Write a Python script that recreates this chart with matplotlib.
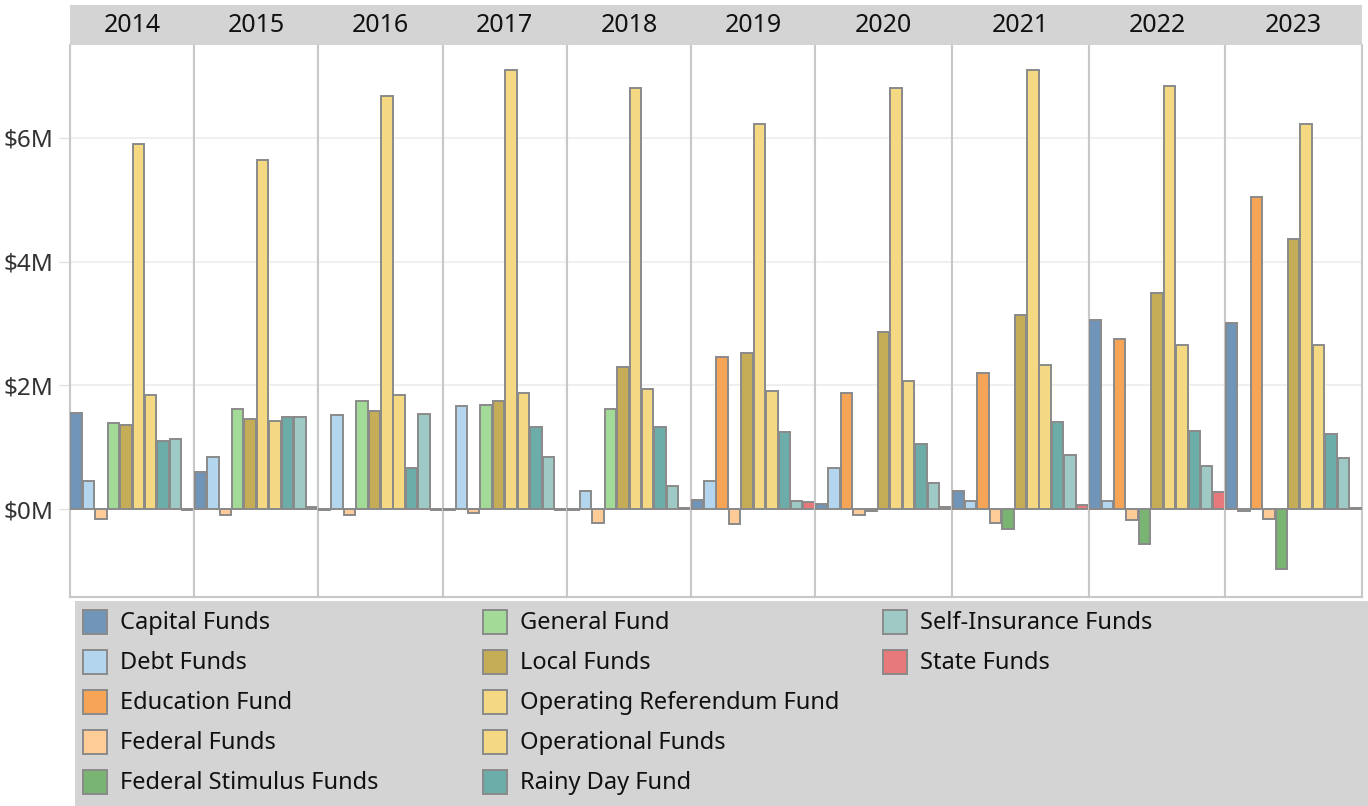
import matplotlib.pyplot as plt
from matplotlib.patches import Rectangle

plt.rcParams['font.family'] = ['Noto Sans', 'DejaVu Sans']

years = ['2014', '2015', '2016', '2017', '2018', '2019', '2020', '2021', '2022', '2023']

funds = ['Capital Funds', 'Debt Funds', 'Education Fund', 'Federal Funds',
         'Federal Stimulus Funds', 'General Fund', 'Local Funds',
         'Operating Referendum Fund', 'Operational Funds', 'Rainy Day Fund',
         'Self-Insurance Funds', 'State Funds']
colors = ['#7194b9', '#b3d5ed', '#f5a555', '#ffcb97', '#7ab472', '#a3da97',
          '#c5ad57', '#f4d882', '#f4d882', '#6dada9', '#9ec9c5', '#e7797a']

# values in $M per year, None = fund not reported that year
capital = [1.55, 0.60, -0.02, -0.02, -0.02, 0.14, 0.08, 0.30, 3.06, 3.01]
debt = [0.46, 0.85, 1.52, 1.66, 0.30, 0.46, 0.66, 0.13, 0.13, -0.03]
education = [None, None, None, None, None, 2.46, 1.88, 2.20, 2.75, 5.04]
federal = [-0.155, -0.09, -0.09, -0.06, -0.22, -0.24, -0.09, -0.22, -0.18, -0.155]
fed_stimulus = [None, None, None, None, None, None, -0.03, -0.32, -0.56, -0.96]
general = [1.39, 1.62, 1.75, 1.68, 1.62, None, None, None, None, None]
local = [1.36, 1.46, 1.59, 1.75, 2.30, 2.53, 2.87, 3.13, 3.49, 4.36]
op_referendum = [5.90, 5.64, 6.68, 7.09, 6.80, 6.22, 6.80, 7.09, 6.84, 6.22]
operational = [1.85, 1.43, 1.85, 1.88, 1.94, 1.91, 2.07, 2.33, 2.66, 2.66]
rainy_day = [1.10, 1.49, 0.66, 1.33, 1.33, 1.24, 1.05, 1.40, 1.26, 1.21]
self_insurance = [1.14, 1.49, 1.53, 0.85, 0.37, 0.13, 0.43, 0.88, 0.70, 0.82]
state = [-0.02, 0.03, -0.02, -0.02, 0.02, 0.11, 0.03, 0.07, 0.28, 0.02]

values = [capital, debt, education, federal, fed_stimulus, general, local,
          op_referendum, operational, rainy_day, self_insurance, state]

yticks = [0, 2, 4, 6]
ytick_labels = ['$0M', '$2M', '$4M', '$6M']

W, H = 1368, 806
fig = plt.figure(figsize=(W / 100, H / 100), dpi=100)


def fx(px):
    return px / W


def fy(py):
    return 1 - py / H


counts = [sum(v[i] is not None for v in values) for i in range(len(years))]
gs = fig.add_gridspec(1, len(years), left=fx(70), right=fx(1362),
                      bottom=fy(597), top=fy(45), wspace=0,
                      width_ratios=counts)

edge = '#8a8a8a'
frame = '#c8c8c8'
axes = []
for i, yr in enumerate(years):
    ax = fig.add_subplot(gs[0, i])
    axes.append(ax)
    present = [(c, v[i]) for c, v in zip(colors, values) if v[i] is not None]
    xs = list(range(len(present)))
    ax.bar(xs, [p[1] for p in present], width=0.92,
           color=[p[0] for p in present], edgecolor=edge, linewidth=1.4,
           zorder=3)
    ax.set_xlim(-0.5, len(present) - 0.5)
    ax.set_ylim(-1.42, 7.5)
    ax.set_xticks([])
    ax.set_yticks(yticks)
    ax.grid(axis='y', color='#ececec', linewidth=1.2, zorder=0)
    for s in ax.spines.values():
        s.set_color(frame)
        s.set_linewidth(1.5)
    ax.spines['top'].set_visible(False)
    if i > 0:
        ax.tick_params(axis='y', length=0, labelleft=False)

axes[0].set_yticklabels(ytick_labels)
axes[0].tick_params(axis='y', length=8, width=1, color='#e2e2e2',
                    labelsize=17.5, labelcolor='#333333', pad=4)

# header strip with years
hdr = fig.add_axes([fx(70), fy(45), fx(1362) - fx(70), 40 / H])
hdr.set_facecolor('#d4d4d4')
hdr.set_xticks([])
hdr.set_yticks([])
for s in hdr.spines.values():
    s.set_visible(False)
for ax, yr in zip(axes, years):
    pos = ax.get_position()
    fig.text((pos.x0 + pos.x1) / 2, fy(26), yr, ha='center', va='center',
             fontsize=18, color='#111111')

# legend box
lg = fig.add_axes([fx(75), 0, 1 - fx(75), fy(601)])
lg.set_facecolor('#d4d4d4')
lg.set_xlim(75, 1368)
lg.set_ylim(806, 601)
lg.set_xticks([])
lg.set_yticks([])
for s in lg.spines.values():
    s.set_visible(False)

col_x = [83, 483, 883]
for k, (name, c) in enumerate(zip(funds, colors)):
    col, row = k // 5, k % 5
    x0 = col_x[col]
    yc = 622 + 40 * row
    lg.add_patch(Rectangle((x0, yc - 12), 24, 24, facecolor=c,
                           edgecolor=edge, linewidth=1.4))
    lg.text(x0 + 37, yc + 1, name, ha='left', va='center', fontsize=17,
            color='#111111')

fig.savefig('out.png', dpi=100)
